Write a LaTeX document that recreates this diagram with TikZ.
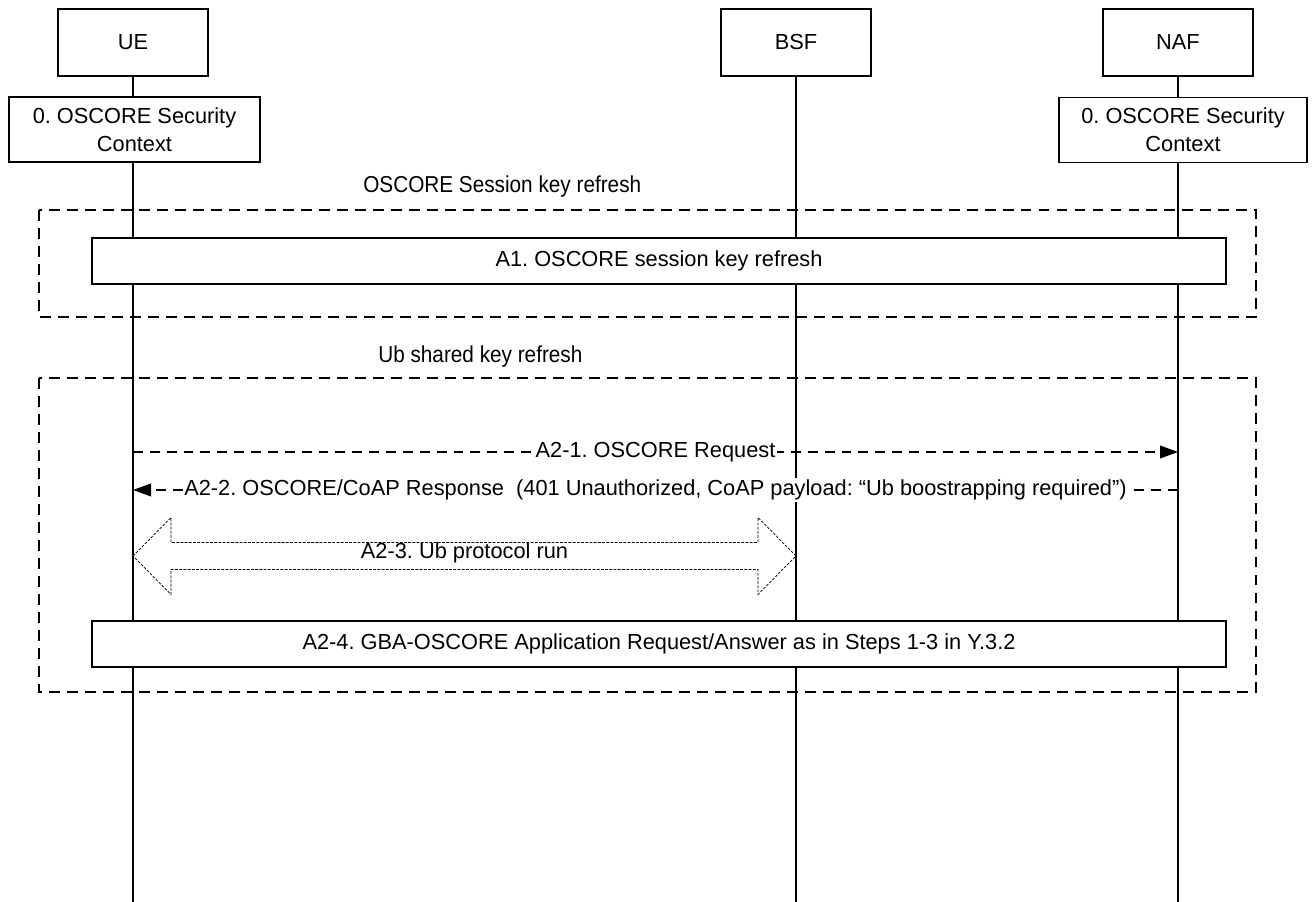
\documentclass[tikz,border=0pt]{standalone}
\usepackage{fontspec}
\setmainfont{Liberation Sans}
\newfontfamily\titlefont[FakeStretch=0.9]{Liberation Sans}
\frenchspacing
\usetikzlibrary{arrows.meta,calc}
\tikzset{%
  actorbox/.style={draw, fill=white, rectangle, line width=1.1pt, minimum width=3.75cm, minimum height=1.675cm, font=\fontsize{15.5pt}{18pt}\selectfont},
  ctxbox/.style={draw, fill=white, rectangle, line width=1.1pt, minimum height=1.625cm, align=center, font=\fontsize{15.5pt}{20pt}\selectfont},
  stepbox/.style={draw, fill=white, rectangle, line width=1.1pt, minimum width=28.35cm, minimum height=1.15cm, font=\fontsize{15.5pt}{18pt}\selectfont},
  lifeline/.style={line width=0.9pt},
  frame/.style={line width=1pt, dash pattern=on 7.8pt off 5pt},
  titletext/.style={anchor=base west, inner sep=0pt, font=\titlefont\fontsize{16.4pt}{19pt}\selectfont},
  msg/.style={line width=0.8pt, dash pattern=on 7pt off 5pt, -{Triangle[length=0.45cm, width=0.32cm]}},
  msglabel/.style={fill=white, inner sep=1pt, font=\fontsize{15.5pt}{18pt}\selectfont},
  hollow/.style={line width=0.5pt, dash pattern=on 2pt off 1pt},
}

\begin{document}
\begin{tikzpicture}%
\useasboundingbox (0,0) rectangle (32.825,-22.55);%
% entities and their lifelines
\node[actorbox] (ue) at (3.325, -1.0625) {UE};%
\node[actorbox] (bsf) at (19.9, -1.0625) {BSF};%
\node[actorbox] (naf) at (29.45, -1.0625) {NAF};%
\coordinate (ue-end) at (3.325, -22.55);%
\coordinate (bsf-end) at (19.9, -22.55);%
\coordinate (naf-end) at (29.45, -22.55);%
\draw[lifeline] (ue) -- (ue-end);%
\draw[lifeline] (bsf) -- (bsf-end);%
\draw[lifeline] (naf) -- (naf-end);%
\node[ctxbox, minimum width=6.275cm] (ue-ctx) at (3.3625, -3.2375) {0. OSCORE Security\\Context};%
\node[ctxbox, minimum width=6.2cm] (naf-ctx) at (29.575, -3.25) {0. OSCORE Security\\Context};%
% A1
\node[titletext] (title-a1) at (9.075, -4.825) {OSCORE Session key refresh};%
\draw[frame] (0.975, -5.25) rectangle (31.4, -7.925);%
\node[stepbox] (a1) at (16.475, -6.525) {A1. OSCORE session key refresh};%
% A2
\node[titletext] (title-a2) at (9.45, -9.05) {Ub shared key refresh};%
\draw[frame] (0.975, -9.45) rectangle (31.4, -17.3);%
\coordinate (ue-m1) at (3.325, -11.3);%
\coordinate (naf-m1) at (29.45, -11.3);%
\coordinate (ue-m2) at (3.325, -12.25);%
\coordinate (naf-m2) at (29.45, -12.25);%
\coordinate (ue-m3) at (3.325, -13.9);%
\coordinate (bsf-m3) at (19.9, -13.9);%
\draw[msg] (ue-m1) -- node[msglabel] (m1) {A2-1. OSCORE Request} (naf-m1);%
\draw[msg] (naf-m2) -- node[msglabel] (m2) {A2-2. OSCORE/CoAP Response\ \ (401 Unauthorized, CoAP payload: “Ub boostrapping required”)} (ue-m2);%
\draw[hollow] (ue-m3) -- ++(0.95, 0.9625) -- ++(0, -0.625) -- ($(bsf-m3)+(-0.95, 0.3375)$) -- ++(0, 0.625) -- (bsf-m3) -- ++(-0.95, -0.9625) -- ++(0, 0.625) -- ($(ue-m3)+(0.95, -0.3375)$) -- ++(0, -0.625) -- cycle;%
\node[msglabel, fill=none] (m3) at ($(ue-m3)!0.5!(bsf-m3)+(0, 0.075)$) {A2-3. Ub protocol run};%
\node[stepbox] (a24) at (16.475, -16.1) {A2-4. GBA-OSCORE Application Request/Answer as in Steps 1-3 in Y.3.2};%
\end{tikzpicture}
\end{document}
